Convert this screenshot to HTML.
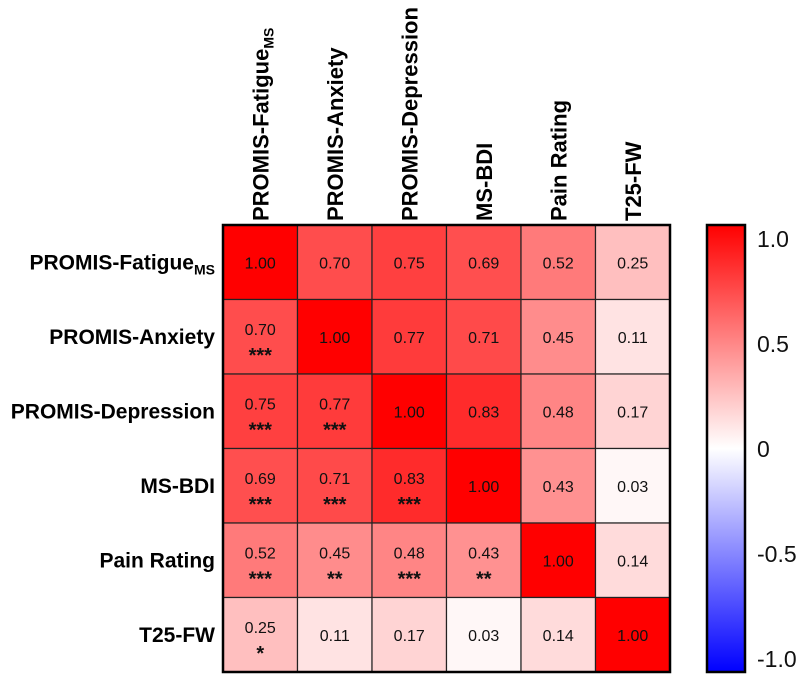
<!DOCTYPE html>
<html><head><meta charset="utf-8"><style>
html,body{margin:0;padding:0;background:#fff}
svg{display:block;font-family:"Liberation Sans",Arial,sans-serif}
</style></head><body>
<svg id="chart" width="800" height="683" viewBox="0 0 800 683" xmlns="http://www.w3.org/2000/svg">
<defs>
<linearGradient id="cbar" x1="0" y1="0" x2="0" y2="1">
<stop offset="0" stop-color="#ff0000"/><stop offset="0.5" stop-color="#ffffff"/><stop offset="1" stop-color="#0000ff"/>
</linearGradient>
</defs>
<g id="cells"></g>
<g id="rowlabels"></g>
<g id="collabels"></g>
<rect x="707" y="225" width="38" height="447" fill="url(#cbar)" stroke="#000" stroke-width="2.5"/>
<g id="cbticks"></g>
</svg>
<script>
const rowNames = ["PROMIS-Fatigue","PROMIS-Anxiety","PROMIS-Depression","MS-BDI","Pain Rating","T25-FW"];
const rowSubs = ["MS","","","","",""];
const matrixValues = [
 [1.00,0.70,0.75,0.69,0.52,0.25],
 [0.70,1.00,0.77,0.71,0.45,0.11],
 [0.75,0.77,1.00,0.83,0.48,0.17],
 [0.69,0.71,0.83,1.00,0.43,0.03],
 [0.52,0.45,0.48,0.43,1.00,0.14],
 [0.25,0.11,0.17,0.03,0.14,1.00]
];
const starLabels = [
 ["","","","","",""],
 ["***","","","","",""],
 ["***","***","","","",""],
 ["***","***","***","","",""],
 ["***","**","***","**","",""],
 ["*","","","","",""]
];
const cbTickValues = [1.0,0.5,0,-0.5,-1.0];
const cbTickLabels = ["1.0","0.5","0","-0.5","-1.0"];

const NS="http://www.w3.org/2000/svg";
const X0=223,Y0=225,CW=74.5,CH=74.5;
const xPos=i=>X0+i*CW, yPos=j=>Y0+j*CH;
const cbY=v=>449-v*210;
function color(v){
  const t=Math.max(-1,Math.min(1,v));
  if(t>=0){const c=Math.round(255*(1-t));return `rgb(255,${c},${c})`;}
  const c=Math.round(255*(1+t));return `rgb(${c},${c},255)`;
}
function mk(tag,attrs,parent){const e=document.createElementNS(NS,tag);for(const k in attrs)e.setAttribute(k,attrs[k]);parent.appendChild(e);return e;}
const cells=document.getElementById('cells');
const n=rowNames.length;
for(let j=0;j<n;j++)for(let i=0;i<n;i++){
  const v=matrixValues[j][i];
  const r=mk('rect',{x:xPos(i),y:yPos(j),width:CW,height:CH,fill:color(v),stroke:'#222','stroke-width':1.2},cells);
  
  
  const s=starLabels[j][i];
  const t=mk('text',{x:xPos(i)+CW/2,y:yPos(j)+CH/2+(s?-2:6),'text-anchor':'middle','font-size':16,fill:'#111'},cells);
  t.textContent=v.toFixed(2);
  
  
  if(s){
    const st=mk('text',{x:xPos(i)+CW/2,y:yPos(j)+CH/2+25,'text-anchor':'middle','font-size':20,'font-weight':'bold',fill:'#111'},cells);
    st.textContent=s;
    
    
  }
}
mk('rect',{x:X0,y:Y0,width:CW*n,height:CH*n,fill:'none',stroke:'#000','stroke-width':2.5},cells);
const rl=document.getElementById('rowlabels'),cl=document.getElementById('collabels');
for(let k=0;k<n;k++){
  const t=mk('text',{x:215,y:yPos(k)+CH/2+7,'text-anchor':'end','font-size':21,'font-weight':'bold'},rl);
  
  
  t.appendChild(document.createTextNode(rowNames[k]));
  if(rowSubs[k]){const ts=mk('tspan',{'font-size':14,dy:5},t);ts.textContent=rowSubs[k];}
  const cx=xPos(k)+CW/2+8, cy=221;
  const c=mk('text',{x:cx,y:cy,'text-anchor':'start','font-size':22,'font-weight':'bold',transform:`rotate(-90 ${cx} ${cy})`},cl);
  
  
  c.appendChild(document.createTextNode(rowNames[k]));
  if(rowSubs[k]){const ts=mk('tspan',{'font-size':14,dy:5},c);ts.textContent=rowSubs[k];}
}
const cb=document.getElementById('cbticks');
for(let k=0;k<cbTickValues.length;k++){
  const t=mk('text',{x:757,y:cbY(cbTickValues[k])+8,'font-size':23,fill:'#111'},cb);
  t.textContent=cbTickLabels[k];
  
  
}
</script>
</body></html>
